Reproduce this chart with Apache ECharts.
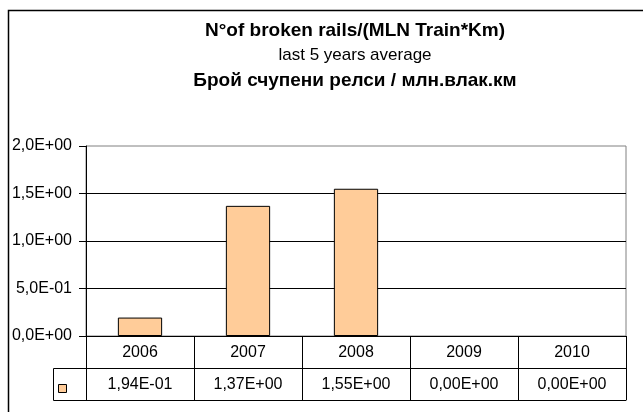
<!DOCTYPE html>
<html>
<head>
<meta charset="utf-8">
<script src="https://cdn.jsdelivr.net/npm/echarts@6/dist/echarts.min.js"></script>
<style>
  html, body { margin: 0; padding: 0; background: #fff; }
  #chart { width: 643px; height: 412px; }
</style>
</head>
<body>
<div id="chart"></div>
<script>
// broken rails per million train-km, with the Excel-style data table under the axis
var YEARS = ["2006", "2007", "2008", "2009", "2010"];
var VALUES = [0.194, 1.37, 1.55, 0, 0];
var SERIES_NAME = "broken rails";
var Y_MIN = 0, Y_MAX = 2, Y_STEP = 0.5;
var TITLE_1 = "N°of broken rails/(MLN Train*Km)";
var TITLE_2 = "last 5 years average";
var TITLE_3 = "Брой счупени релси / млн.влак.км";

var FONT = "'Liberation Sans', Arial, sans-serif";

// 1.94 -> "1,94E+00" (comma decimal, two-digit exponent)
function sci(v, digits) {
  var parts = v.toExponential(digits).split("e");
  var exp = parseInt(parts[1], 10);
  var e = Math.abs(exp);
  return parts[0].replace(".", ",") + "E" + (exp < 0 ? "-" : "+") + (e < 10 ? "0" : "") + e;
}

var chart = echarts.init(document.getElementById("chart"));
chart.setOption({
  animation: false,
  backgroundColor: "#fff",
  textStyle: { fontFamily: FONT },
  title: {
    left: 350, top: 13, textAlign: "center",
    text: "{b|" + TITLE_1 + "}\n{n|" + TITLE_2 + "}\n{b|" + TITLE_3 + "}",
    textStyle: {
      rich: {
        b: { fontFamily: FONT, fontSize: 19, fontWeight: "bold", color: "#000", lineHeight: 25, align: "center" },
        n: { fontFamily: FONT, fontSize: 17, fontWeight: "normal", color: "#000", lineHeight: 25, align: "center" }
      }
    }
  },
  legend: {
    data: [SERIES_NAME], left: 53, top: 379,
    icon: "rect", itemWidth: 8, itemHeight: 8,
    itemStyle: { borderColor: "#000", borderWidth: 1 },
    formatter: function () { return ""; },
    selectedMode: false
  },
  grid: {
    left: 86, right: 17, top: 146, bottom: 76,
    show: true, borderColor: "#808080", borderWidth: 1
  },
  xAxis: [
    {
      type: "category", data: YEARS, position: "bottom",
      axisLine: { lineStyle: { color: "#000", width: 1 } },
      axisTick: { show: true, length: 64, interval: 0, lineStyle: { color: "#000" } },
      axisLabel: { color: "#000", fontSize: 16, margin: 9, interval: 0 }
    },
    {
      type: "category", data: YEARS, position: "bottom", offset: 32,
      axisLine: { lineStyle: { color: "#000", width: 1 } },
      axisTick: { show: false },
      axisLabel: {
        color: "#000", fontSize: 16, margin: 9, interval: 0,
        formatter: function (v, i) { return sci(VALUES[i], 2); }
      }
    },
    {
      type: "category", data: YEARS, position: "bottom", offset: 64,
      axisLine: { lineStyle: { color: "#000", width: 1 } },
      axisTick: { show: false },
      axisLabel: { show: false }
    }
  ],
  yAxis: {
    type: "value", min: Y_MIN, max: Y_MAX, interval: Y_STEP,
    axisLine: { show: true, lineStyle: { color: "#000" } },
    axisTick: { show: true, length: 7, lineStyle: { color: "#000" } },
    axisLabel: {
      color: "#000", fontSize: 16, margin: 14,
      formatter: function (v) { return sci(v, 1); }
    },
    splitLine: { show: true, showMaxLine: false, lineStyle: { color: "#000", width: 1 } }
  },
  series: [{
    name: SERIES_NAME, type: "bar", xAxisIndex: 0,
    // zero-height bars get no outline, as in the original
    data: VALUES.map(function (v) {
      return v === 0 ? { value: v, itemStyle: { borderWidth: 0 } } : v;
    }),
    barCategoryGap: "59%",
    itemStyle: { color: "#FFCC99", borderColor: "#000", borderWidth: 1 }
  }],
  graphic: [
    {
      // outer chart-area frame
      type: "rect", silent: true, z: -1,
      shape: { x: 8.5, y: 10.5, width: 700, height: 500 },
      style: { fill: "none", stroke: "#000", lineWidth: 1.5 }
    },
    {
      // legend-key cell of the data table
      type: "polyline", silent: true,
      shape: { points: [[86, 368.5], [53.5, 368.5], [53.5, 400.5], [86, 400.5]] },
      style: { fill: "none", stroke: "#000", lineWidth: 1 }
    }
  ]
});
</script>
</body>
</html>
